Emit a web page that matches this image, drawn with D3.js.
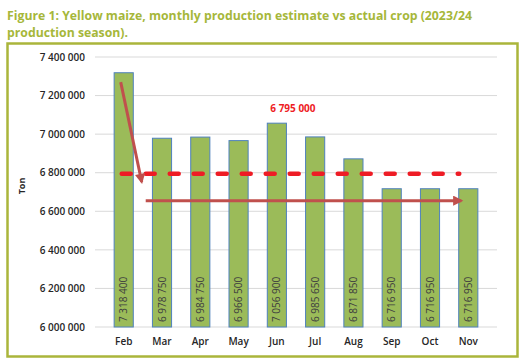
<!DOCTYPE html>
<html>
<head>
<meta charset="utf-8">
<script src="https://cdn.jsdelivr.net/npm/d3@7"></script>
<style>
  body { margin: 0; background: #fff; }
  svg { display: block; font-family: "Open Sans", sans-serif; }
</style>
</head>
<body>
<svg id="chart" width="523" height="361"></svg>
<script>
// data
var months = ["Feb", "Mar", "Apr", "May", "Jun", "Jul", "Aug", "Sep", "Oct", "Nov"];
var production = [7318400, 6978750, 6984750, 6966500, 7056900, 6985650, 6871850, 6716950, 6716950, 6716950];
var yTicks = [6000000, 6200000, 6400000, 6600000, 6800000, 7000000, 7200000, 7400000];
var finalEstimate = 6795000;
var titleLines = ["Figure 1: Yellow maize, monthly production estimate vs actual crop (2023/24", "production season)."];

var fmt = function(v) { return d3.format(",")(v).replace(/,/g, " "); };

var svg = d3.select("#chart");

// defs: arrow head + blur for the line shadow
var defs = svg.append("defs");
defs.append("marker")
    .attr("id", "head")
    .attr("viewBox", "0 0 10 10")
    .attr("refX", 8).attr("refY", 5)
    .attr("markerWidth", 4).attr("markerHeight", 3.4)
    .attr("orient", "auto")
  .append("path")
    .attr("d", "M0,0 L10,5 L0,10 Z")
    .attr("fill", "#c0504d");
defs.append("filter").attr("id", "blur")
  .append("feGaussianBlur").attr("stdDeviation", 1);

// title
svg.selectAll("text.title")
  .data(titleLines)
  .enter().append("text")
    .attr("class", "title")
    .attr("x", 7)
    .attr("y", function(d, i) { return 20 + i * 16.5; })
    .attr("font-size", 13)
    .attr("font-weight", 700)
    .attr("fill", "#a6b73a")
    .attr("textLength", function(d, i) { return i == 0 ? 465 : 121; })
    .attr("lengthAdjust", "spacingAndGlyphs")
    .text(function(d) { return d; });

// frame
svg.append("rect")
  .attr("x", 7.5).attr("y", 43.5)
  .attr("width", 510).attr("height", 313)
  .attr("fill", "none")
  .attr("stroke", "#aab53b")
  .attr("stroke-width", 2.5);

var margin = {top: 57, left: 95},
    width = 402,
    height = 270;

var g = svg.append("g")
  .attr("transform", "translate(" + margin.left + "," + margin.top + ")");

var x = d3.scaleBand()
  .domain(months)
  .range([0, width])
  .padding(0.5);

var y = d3.scaleLinear()
  .domain([6000000, 7400000])
  .range([height, 0]);

// gridlines
g.selectAll("line.grid")
  .data(yTicks)
  .enter().append("line")
    .attr("class", "grid")
    .attr("x1", 0).attr("x2", width)
    .attr("y1", function(d) { return y(d); })
    .attr("y2", function(d) { return y(d); })
    .attr("stroke", "#d9d9d9")
    .attr("stroke-width", 1);

// y axis labels
var yAxis = g.append("g")
  .call(d3.axisLeft(y).tickValues(yTicks).tickFormat(fmt).tickSize(0).tickPadding(10));
yAxis.select(".domain").remove();
yAxis.selectAll("text")
  .attr("font-family", "Open Sans, sans-serif")
  .attr("font-size", 10)
  .attr("font-weight", 600)
  .attr("fill", "#262626");

svg.append("text")
  .attr("transform", "translate(25,186) rotate(-90)")
  .attr("text-anchor", "middle")
  .attr("font-size", 9)
  .attr("font-weight", 700)
  .attr("fill", "#262626")
  .text("Ton");

// x axis labels
var xAxis = g.append("g")
  .attr("transform", "translate(0," + height + ")")
  .call(d3.axisBottom(x).tickSize(0).tickPadding(11));
xAxis.select(".domain").remove();
xAxis.selectAll("text")
  .attr("font-family", "Open Sans, sans-serif")
  .attr("font-size", 10)
  .attr("font-weight", 600)
  .attr("fill", "#262626");

// bars
var data = months.map(function(m, i) { return {month: m, value: production[i]}; });

g.selectAll("rect.bar")
  .data(data)
  .enter().append("rect")
    .attr("class", "bar")
    .attr("x", function(d) { return x(d.month); })
    .attr("y", function(d) { return y(d.value); })
    .attr("width", x.bandwidth())
    .attr("height", function(d) { return height - y(d.value); })
    .attr("fill", "#9bbb59")
    .attr("stroke", "#4f81bd")
    .attr("stroke-width", 1);

// bar value labels, rotated inside bars
g.selectAll("text.val")
  .data(data)
  .enter().append("text")
    .attr("class", "val")
    .attr("transform", function(d) {
      return "translate(" + (x(d.month) + x.bandwidth() / 2) + "," + (height - 5) + ") rotate(-90)";
    })
    .attr("dy", "0.35em")
    .attr("font-size", 10)
    .attr("fill", "#404040")
    .text(function(d) { return fmt(d.value); });

// final estimate dashed line (with soft grey shadow)
var step = x.step();
var cx = function(m) { return x(m) + x.bandwidth() / 2; };
var lx1 = cx("Feb") - 2, lx2 = cx("Nov") - 9;

g.append("line")
  .attr("x1", lx1 + 10).attr("x2", lx2 + 9)
  .attr("y1", y(finalEstimate) + 2).attr("y2", y(finalEstimate) + 2)
  .attr("stroke", "#7f7f7f")
  .attr("stroke-width", 4)
  .attr("stroke-dasharray", "13,11")
  .attr("opacity", 0.8)
  .attr("filter", "url(#blur)");

g.append("line")
  .attr("x1", lx1).attr("x2", lx2)
  .attr("y1", y(finalEstimate)).attr("y2", y(finalEstimate))
  .attr("stroke", "#ee1c25")
  .attr("stroke-width", 4.5)
  .attr("stroke-linecap", "round")
  .attr("stroke-dasharray", "9,15");

g.append("text")
  .attr("x", cx("Jun") + 0.42 * step)
  .attr("y", y(7115000))
  .attr("text-anchor", "middle")
  .attr("font-size", 10)
  .attr("font-weight", 700)
  .attr("fill", "#ee1c25")
  .text(fmt(finalEstimate));

// arrows
g.append("line")
  .attr("x1", cx("Feb") - 3).attr("y1", y(7270000))
  .attr("x2", cx("Feb") + 18).attr("y2", y(6752000))
  .attr("stroke", "#c0504d")
  .attr("stroke-width", 3)
  .attr("marker-end", "url(#head)");

g.append("line")
  .attr("x1", cx("Feb") + 22).attr("y1", y(6655000))
  .attr("x2", cx("Nov") - 7).attr("y2", y(6655000))
  .attr("stroke", "#c0504d")
  .attr("stroke-width", 3)
  .attr("marker-end", "url(#head)");
</script>
</body>
</html>
